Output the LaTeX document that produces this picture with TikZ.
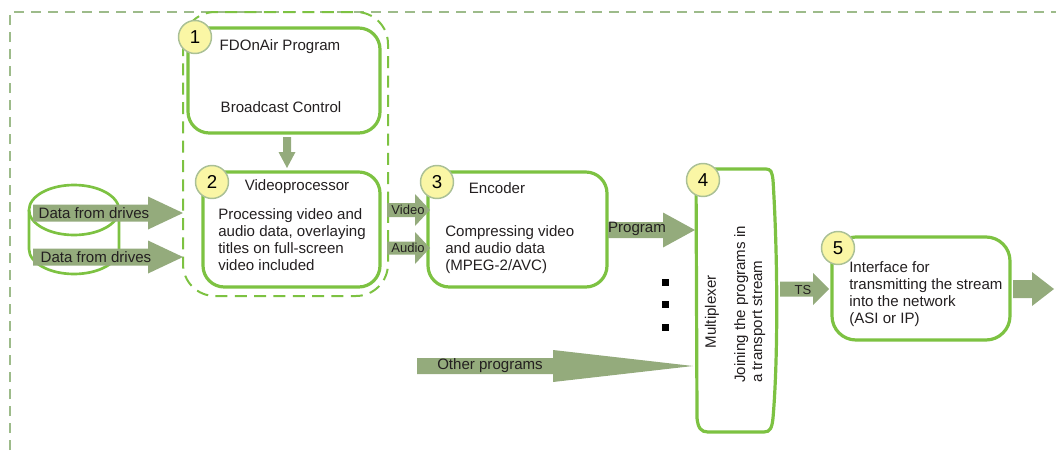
\documentclass[tikz,border=0pt]{standalone}
\usepackage{fontspec}
\setmainfont{Liberation Sans}
\usetikzlibrary{fit}
\definecolor{gr}{RGB}{125,194,66}
\definecolor{odc}{RGB}{157,187,138}
\definecolor{afill}{RGB}{148,171,124}
\definecolor{cf}{RGB}{250,246,165}
\definecolor{cb}{RGB}{170,192,150}
\definecolor{tc}{RGB}{35,31,32}
\newcommand{\barrow}[6]{\fill[afill] (#1,{#4-#5}) -- (#2,{#4-#5}) -- (#2,{#4-#6}) -- (#3,#4) -- (#2,{#4+#6}) -- (#2,{#4+#5}) -- (#1,{#4+#5}) -- cycle;}
\begin{document}
\begin{tikzpicture}[x=0.75pt,y=-0.75pt,
  font=\fontsize{11.3}{12.75}\selectfont,
  gbox/.style={draw=gr, line width=2.4pt, rounded corners=16pt, inner sep=0pt},
  numc/.style={circle, draw=cb, line width=1.1pt, fill=cf, minimum size=24.75pt, inner sep=0pt, text=black, font=\fontsize{14}{14}\selectfont},
  txt/.style={inner sep=0pt, text=tc},
  body/.style={txt, align=left, anchor=base west},
  lbl/.style={txt, font=\fontsize{9.75}{11}\selectfont},
  odash/.style={draw=odc, line width=1.5pt, dash pattern=on 7.5pt off 5.25pt},
  gdash/.style={draw=gr, line width=1.5pt, dash pattern=on 9pt off 5.5pt, rounded corners=24pt},
  cyl/.style={draw=gr, line width=2pt}
]
\useasboundingbox (0,0) rectangle (1056,450);
% outer frame
\draw[odash] (10,450) -- (10,12) -- (1056,12);
% group dashed box
\draw[gdash] (183,12) rectangle (388,296);

% cylinder
\draw[cyl] (74,210) ellipse [x radius=45, y radius=25];
\draw[cyl] (29,210) -- (29,249) arc[start angle=180, end angle=0, x radius=45, y radius=25] -- (119,210);

% boxes
\node[gbox, fit={(188,28) (380,133)}] (b1) {};
\node[gbox, fit={(203,172) (380,287)}] (b2) {};
\node[gbox, fit={(428,172) (607,287)}] (b3) {};
\node[gbox, rounded corners=18pt, fit={(832,237) (1010,340)}] (b5) {};
\draw[draw=gr, line width=2.4pt] (696,169) -- (766,169) .. controls (771,169) and (772,172) .. (773,180)
  .. controls (778,260) and (778,360) .. (773,418) .. controls (772,428) and (770,432) .. (764,432)
  -- (708,432) .. controls (701,432) and (698,428) .. (697,418) -- cycle;

% block arrows
\barrow{33}{148}{183}{213}{8.5}{16.5}
\barrow{33}{148}{183}{257}{8.5}{16.5}
\fill[afill] (283,137) -- (291,137) -- (291,152) -- (295.5,152) -- (287,168) -- (278.5,152) -- (283,152) -- cycle;
\barrow{387}{415}{430}{210}{7}{16}
\barrow{387}{415}{430}{248}{6.5}{16}
\barrow{608}{663}{695}{230}{8}{17.5}
\barrow{417}{553}{693}{366}{8}{16}
\barrow{780}{813}{829}{289}{7.5}{16}
\barrow{1013}{1032}{1054}{289}{9}{17}

% dots
\foreach \yy in {282,304,327} {\fill[black] (661.5,{\yy-3.5}) rectangle ++(7,7);}

% number circles
\node[numc] (n1) at (195,37) {1};
\node[numc] (n2) at (212,182) {2};
\node[numc] (n3) at (437,182) {3};
\node[numc] (n4) at (703,180) {4};
\node[numc] (n5) at (838,248) {5};

% texts
\node[txt] (t1a) at (280,47) {FDOnAir Program};
\node[txt] (t1b) at (281,107) {Broadcast Control};
\node[txt] (t2a) at (297,187) {Videoprocessor};
\node[body] (t2b) at (218,270) {Processing video and\\audio data, overlaying\\titles on full-screen\\video included};
\node[txt] (t3a) at (497,188) {Encoder};
\node[body, font=\fontsize{11.3}{12.4}\selectfont] (t3b) at (445,270) {Compressing video\\and audio data\\(MPEG-2/AVC)};
\node[body] (t5) at (849,323) {Interface for\\transmitting the stream\\into the network\\(ASI or IP)};
\node[txt, rotate=90] (t4a) at (712,312) {Multiplexer};
\node[body, rotate=90] (t4b) at (762,383) {Joining the programs in\\a transport stream};
\node[txt] (d1) at (94,213) {Data from drives};
\node[txt] (d2) at (96,257) {Data from drives};
\node[lbl] (lv) at (408,210) {Video};
\node[lbl] (la) at (408,248) {Audio};
\node[txt] (lp) at (637,229) {Program};
\node[lbl] (lts) at (803,290) {TS};
\node[txt] (lo) at (490,366) {Other programs};
\end{tikzpicture}
\end{document}
